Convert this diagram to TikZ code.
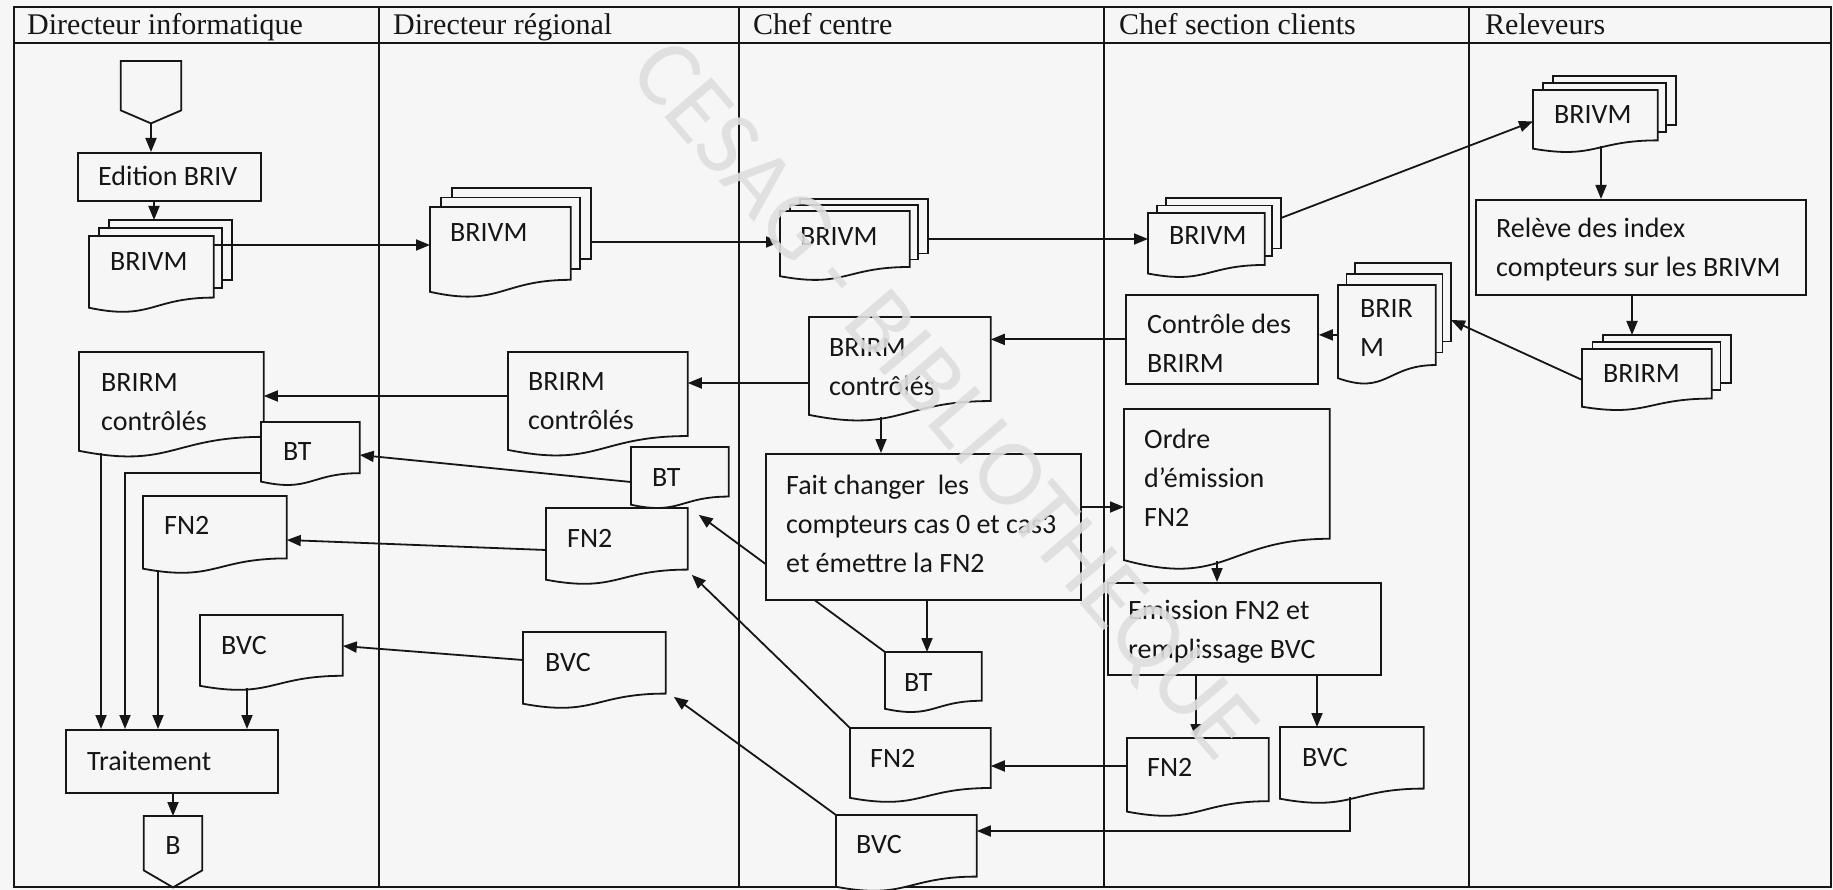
\documentclass[tikz,border=0pt]{standalone}
\usepackage{fontspec}
\setmainfont{Carlito}
\newfontfamily\headfont{Liberation Serif}
\usetikzlibrary{arrows.meta,calc,backgrounds}

\definecolor{paper}{RGB}{246,246,246}
\definecolor{ink}{RGB}{22,22,22}
\definecolor{stamp}{RGB}{222,222,222}

\makeatletter
\newdimen\docXa \newdimen\docYa \newdimen\docXb \newdimen\docYb
\newdimen\docHt \newdimen\docXm \newdimen\docYr \newdimen\docYl \newdimen\docYc
% flowchart "document" symbol: a rectangle whose lower edge is a wave
\pgfdeclareshape{docpage}{%
  \inheritsavedanchors[from=rectangle]%
  \inheritanchorborder[from=rectangle]%
  \inheritanchor[from=rectangle]{center}%
  \inheritanchor[from=rectangle]{north}%
  \inheritanchor[from=rectangle]{south}%
  \inheritanchor[from=rectangle]{east}%
  \inheritanchor[from=rectangle]{west}%
  \inheritanchor[from=rectangle]{north east}%
  \inheritanchor[from=rectangle]{north west}%
  \inheritanchor[from=rectangle]{south east}%
  \inheritanchor[from=rectangle]{south west}%
  \backgroundpath{%
    \southwest \docXa=\pgf@x \docYa=\pgf@y
    \northeast \docXb=\pgf@x \docYb=\pgf@y
    \docHt=\docYb \advance\docHt by -\docYa
    \docXm=\docXa \advance\docXm by \docXb \divide\docXm by 2
    \docYr=0.198\docHt \advance\docYr by \docYa
    \docYl=0.066\docHt \advance\docYl by \docYa
    \docYc=-0.107\docHt \advance\docYc by \docYa
    \pgfpathmoveto{\pgfqpoint{\docXa}{\docYb}}%
    \pgfpathlineto{\pgfqpoint{\docXb}{\docYb}}%
    \pgfpathlineto{\pgfqpoint{\docXb}{\docYr}}%
    \pgfpathcurveto{\pgfqpoint{\docXm}{\docYr}}{\pgfqpoint{\docXm}{\docYc}}{\pgfqpoint{\docXa}{\docYl}}%
    \pgfpathclose
  }%
}
\makeatother

\newcommand\bodysize{\fontsize{28}{39}\selectfont}

\tikzset{
  laneline/.style={draw=ink, line width=1.8pt},
  pagefill/.style={draw=ink, line width=1.8pt, fill=paper},
  docnode/.style={shape=docpage, draw=ink, line width=1.8pt, fill=paper, inner sep=0pt, anchor=north west},
  procnode/.style={rectangle, draw=ink, line width=1.8pt, fill=paper, inner sep=0pt, anchor=north west},
  anchorbox/.style={rectangle, draw=none, inner sep=0pt},
  textline/.style={font=\bodysize, text=ink, inner sep=0pt, anchor=west, text height=18pt, text depth=0pt},
  doclines/.style={font=\bodysize, text=ink, inner sep=0pt, anchor=west, align=left},
  lanehead/.style={font=\headfont\fontsize{30}{36}\selectfont, text=ink, inner sep=0pt, anchor=base west},
  arrowflow/.style={draw=ink, line width=1.8pt, -{Triangle[length=14pt,width=11pt]}},
  plainline/.style={draw=ink, line width=1.8pt},
}

% a document node
\newcommand\docpg[5]{% name, left, top, width, height
  \node[docnode, minimum width=#4, minimum height=#5] (#1) at (#2,#3) {};}
% a process box
\newcommand\procbox[5]{% name, left, top, width, height
  \node[procnode, minimum width=#4, minimum height=#5] (#1) at (#2,#3) {};}
% three stacked documents; the front one is the named node
\newcommand\pagestack[7]{% name, left, top, width, height, dx, dy
  \pgfmathsetmacro\stackbot{#3+0.802*#5}%
  \path[pagefill] (#2+2*#6,#3-2*#7) rectangle (#2+#4+2*#6,\stackbot-2*#7);
  \coordinate (#1-back) at (#2+2*#6,#3-2*#7);
  \coordinate (#1-backne) at (#2+#4+2*#6,#3-2*#7);
  \path[pagefill] (#2+#6,#3-#7) rectangle (#2+#4+#6,\stackbot-#7);
  \node[docnode, minimum width=#4, minimum height=#5] (#1) at (#2,#3) {};}

\begin{document}
\begin{tikzpicture}[x=1pt, y=-1pt]
\useasboundingbox (0,0) rectangle (1833,890);
\begin{pgfonlayer}{background}
  \fill[paper] (0,0) rectangle (1833,890);
\end{pgfonlayer}

% swimlane frame
\draw[laneline] (14,7) rectangle (1831,887);
\draw[laneline] (14,43) -- (1831,43);
\foreach \lx in {379,739,1104,1469} \draw[laneline] (\lx,7) -- (\lx,887);

\node[lanehead] (h1) at (27,35) {Directeur informatique};
\node[lanehead] (h2) at (393,35) {Directeur régional};
\node[lanehead] (h3) at (753,35) {Chef centre};
\node[lanehead] (h4) at (1119,35) {Chef section clients};
\node[lanehead] (h5) at (1485,35) {Releveurs};

% ---- Directeur informatique
\node[anchorbox, minimum width=60, minimum height=62, anchor=north] (conA) at (151,61) {};
\draw[pagefill] (conA.north west) -- (conA.north east) -- ($(conA.south east)+(0,-13)$)
  -- (conA.south) -- ($(conA.south west)+(0,-13)$) -- cycle;
\procbox{edit}{77}{152}{183}{48}
\node[textline] (edit-t) at ($(edit.west)+(21,0)$) {Edition BRIV};
\pagestack{bv1}{89}{236}{123}{75}{10}{8}
\node[textline] (bv1-t) at ($(bv1.north west)+(21,26)$) {BRIVM};
\docpg{br1}{79}{352}{183}{104}
\node[doclines] (br1-t) at ($(br1.north west)+(22,50)$) {BRIRM\\contrôlés};
\docpg{bt1}{261}{422}{97}{62}
\node[textline] (bt1-t) at ($(bt1.north west)+(22,29)$) {BT};
\docpg{fn21}{143}{496}{142}{76}
\node[textline] (fn21-t) at ($(fn21.north west)+(21,29)$) {FN2};
\docpg{bvc1}{200}{615}{141}{74}
\node[textline] (bvc1-t) at ($(bvc1.north west)+(21,30)$) {BVC};
\procbox{trt}{65}{729}{212}{63}
\node[textline] (trt-t) at ($(trt.west)+(22,0)$) {Traitement};
\node[anchorbox, minimum width=58, minimum height=71, anchor=north] (conB) at (173,816) {};
\draw[pagefill] (conB.north west) -- (conB.north east) -- ($(conB.south east)+(0,-17)$)
  -- (conB.south) -- ($(conB.south west)+(0,-17)$) -- cycle;
\node[textline, anchor=center] (conB-t) at ($(conB.north)+(0,29)$) {B};

% ---- Directeur régional
\pagestack{bv2}{430}{207}{139}{89}{11}{9.5}
\node[textline] (bv2-t) at ($(bv2.north west)+(20,26)$) {BRIVM};
\docpg{br2}{508}{352}{178}{103}
\node[doclines] (br2-t) at ($(br2.north west)+(20,49)$) {BRIRM\\contrôlés};
\docpg{bt2}{631}{447}{96}{60}
\node[textline] (bt2-t) at ($(bt2.north west)+(21,30)$) {BT};
\docpg{fn22}{546}{508}{140}{75}
\node[textline] (fn22-t) at ($(fn22.north west)+(21,30)$) {FN2};
\docpg{bvc2}{523}{632}{141}{75}
\node[textline] (bvc2-t) at ($(bvc2.north west)+(22,30)$) {BVC};

% ---- Chef centre
\pagestack{bv3}{780}{211}{128}{68}{10}{6}
\node[textline] (bv3-t) at ($(bv3.north west)+(20,26)$) {BRIVM};
\docpg{br3}{809}{317}{180}{103}
\node[doclines] (br3-t) at ($(br3.north west)+(20,50)$) {BRIRM\\contrôlés};
\procbox{fait}{765}{453}{315}{146}
\node[doclines] (fait-t) at ($(fait.west)+(21,-3)$) {Fait changer~ les\\compteurs cas 0 et cas3\\et émettre la FN2};
\docpg{bt3}{885}{652}{95}{59}
\node[textline] (bt3-t) at ($(bt3.north west)+(19,30)$) {BT};
\docpg{fn23}{850}{728}{139}{73}
\node[textline] (fn23-t) at ($(fn23.north west)+(20,30)$) {FN2};
\docpg{bvc3}{836}{815}{139}{75}
\node[textline] (bvc3-t) at ($(bvc3.north west)+(20,29)$) {BVC};

% ---- Chef section clients
\pagestack{bv4}{1148}{213}{115}{63}{9}{7.5}
\node[textline] (bv4-t) at ($(bv4.north west)+(21,23)$) {BRIVM};
\pagestack{brir}{1338}{285}{96}{98}{8.5}{11}
\node[doclines] (brir-t) at ($(brir.north west)+(22,43)$) {BRIR\\M};
\procbox{ctrl}{1125}{294}{192}{89}
\node[doclines] (ctrl-t) at ($(ctrl.west)+(22,4)$) {Contrôle des\\BRIRM};
\docpg{ordre}{1124}{409}{204}{160}
\node[doclines] (ordre-t) at ($(ordre.north west)+(20,69)$) {Ordre\\d’émission\\FN2};
\procbox{emis}{1107}{582}{273}{92}
\node[doclines] (emis-t) at ($(emis.west)+(21,3)$) {Emission FN2 et\\remplissage BVC};
\docpg{fn24}{1127}{738}{140}{77}
\node[textline] (fn24-t) at ($(fn24.north west)+(20,29)$) {FN2};
\docpg{bvc4}{1280}{727}{142}{75}
\node[textline] (bvc4-t) at ($(bvc4.north west)+(22,30)$) {BVC};

% ---- Releveurs
\pagestack{bv5}{1533}{90}{123}{61}{10}{7}
\node[textline] (bv5-t) at ($(bv5.north west)+(21,25)$) {BRIVM};
\procbox{relv}{1475}{199}{330}{95}
\node[doclines] (relv-t) at ($(relv.west)+(21,2)$) {Relève des index\\compteurs sur les BRIVM};
\pagestack{br5}{1582}{349}{128}{60}{10.5}{7}
\node[textline] (br5-t) at ($(br5.north west)+(21,24)$) {BRIRM};

% ---- connectors
\begin{pgfonlayer}{background}
  % this one runs behind the "Fait changer" box
  \draw[arrowflow] (bt3.north west) -- ($(bt2.south east)+(-30,6)$);
\end{pgfonlayer}

\draw[arrowflow] (conA.south) -- (conA.south |- edit.north);
\coordinate (c1) at ($(edit.south west)+(77,0)$);
\draw[arrowflow] (c1) -- (c1 |- bv1-back);
\coordinate (c2) at ($(bv1.north east)+(0,9)$);
\draw[arrowflow] (c2) -- (c2 -| bv2.west);
\coordinate (c3) at ($(bv2-backne)+(0,54)$);
\draw[arrowflow] (c3) -- (c3 -| bv3.west);
\coordinate (c4) at ($(bv3-backne)+(0,40)$);
\draw[arrowflow] (c4) -- (c4 -| bv4.west);
\draw[arrowflow] ($(bv4-backne)+(0,20)$) -- (bv5.west);
\coordinate (c5) at ($(bv5.north west)+(68,56)$);
\draw[arrowflow] (c5) -- (c5 |- relv.north);
\coordinate (c6) at ($(relv.south west)+(157,0)$);
\draw[arrowflow] (c6) -- (c6 |- br5-back);
\draw[arrowflow] (br5.west) -- ($(brir-backne)+(0,57)$);
\draw[arrowflow] (brir.west) -- (brir.west -| ctrl.east);
\draw[arrowflow] (ctrl.west) -- (ctrl.west -| br3.east);
\coordinate (c7) at ($(br3.north west)+(0,66)$);
\draw[arrowflow] (c7) -- (c7 -| br2.east);
\coordinate (c8) at ($(br2.north west)+(0,44)$);
\draw[arrowflow] (c8) -- (c8 -| br1.east);
\coordinate (c9) at ($(br3.north west)+(72,100)$);
\draw[arrowflow] (c9) -- (c9 |- fait.north);
\coordinate (c10) at ($(fait.north east)+(0,54)$);
\draw[arrowflow] (c10) -- (c10 -| ordre.west);
\coordinate (c11) at ($(fait.south west)+(162,0)$);
\draw[arrowflow] (c11) -- (c11 |- bt3.north);
\coordinate (c12) at ($(ordre.north west)+(93,152)$);
\draw[arrowflow] (c12) -- (c12 |- emis.north);
\coordinate (c13) at ($(emis.south west)+(89,0)$);
\draw[arrowflow] (c13) -- (c13 |- fn24.north);
\coordinate (c14) at ($(emis.south west)+(210,0)$);
\draw[arrowflow] (c14) -- (c14 |- bvc4.north);
\coordinate (c15) at ($(fn24.north west)+(0,28)$);
\draw[arrowflow] (c15) -- (c15 -| fn23.east);
\draw[arrowflow] ($(bvc4.north west)+(70,70)$) |- ($(bvc3.north east)+(0,16)$);
\draw[arrowflow] (fn23.north west) -- ($(fn22.south east)+(4,-10)$);
\draw[arrowflow] (bvc3.north west) -- ($(bvc2.south east)+(8,-12)$);
\draw[arrowflow] ($(bt2.north west)+(0,35)$) -- ($(bt1.north east)+(0,33)$);
\draw[arrowflow] ($(fn22.north west)+(0,42)$) -- ($(fn21.north east)+(0,44)$);
\draw[arrowflow] ($(bvc2.north west)+(0,28)$) -- ($(bvc1.north east)+(0,31)$);
\coordinate (c16) at ($(br1.north west)+(22,101)$);
\draw[arrowflow] (c16) -- (c16 |- trt.north);
\draw[arrowflow] ($(bt1.north west)+(0,51)$) -| ($(trt.north west)+(60,0)$);
\coordinate (c17) at ($(fn21.north west)+(15,74)$);
\draw[arrowflow] (c17) -- (c17 |- trt.north);
\coordinate (c18) at ($(bvc1.north west)+(47,73)$);
\draw[arrowflow] (c18) -- (c18 |- trt.north);
\coordinate (c19) at ($(trt.south west)+(108,0)$);
\draw[arrowflow] (c19) -- (c19 |- conB.north);

% library stamp across the sheet
\node[font=\fontsize{96}{96}\selectfont, text=stamp, rotate=-49.5, inner sep=0pt, opacity=0.9] (stampmark) at (941,403) {CESAG - BIBLIOTHEQUE};
\end{tikzpicture}
\end{document}
